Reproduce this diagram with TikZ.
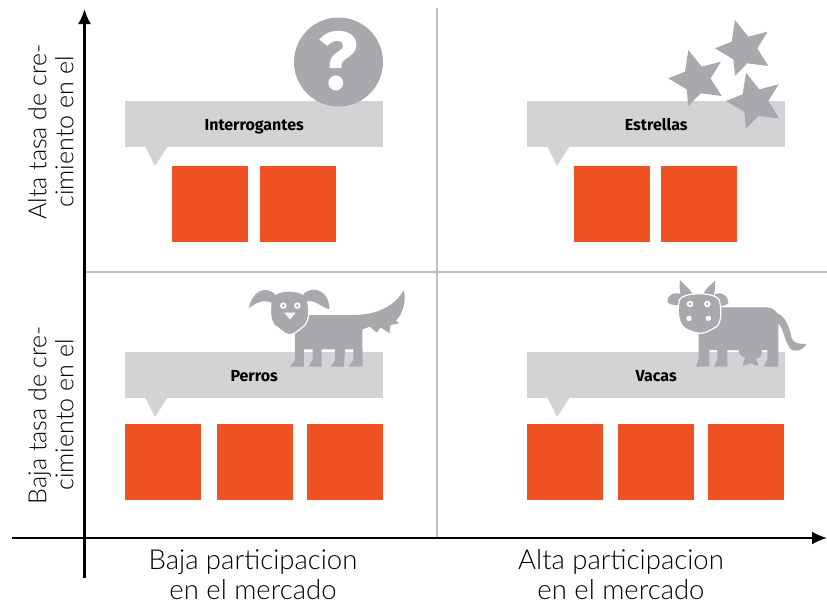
\documentclass[tikz,border=0pt]{standalone}
\usepackage{fontspec}
\setmainfont{Lato}
\newfontfamily\hand{Lato Light}
\newfontfamily\lab{Fira Sans}
\definecolor{orangebox}{HTML}{F15223}
\definecolor{calloutgray}{HTML}{D1D3D4}
\definecolor{icongray}{HTML}{A7A9AC}
\definecolor{gridgray}{HTML}{BCBEC0}
\usetikzlibrary{arrows.meta}
\tikzset{
 box/.style={fill=orangebox,minimum width=76pt,minimum height=76pt,inner sep=0pt,anchor=north west},
 callout/.style={fill=calloutgray,minimum width=258pt,minimum height=46pt,inner sep=0pt,anchor=north west,text height=12pt,text depth=0pt,font=\lab\bfseries\fontsize{16}{18}\selectfont},
 tailfill/.style={fill=calloutgray,draw=none},
 grid line/.style={draw=gridgray,line width=2pt},
 axis/.style={draw=black,line width=2.2pt,-{Latex[length=15pt,width=13pt]}},
 handx/.style={font=\hand\fontsize{27.5}{30}\selectfont,align=center,inner sep=0pt},
 handy/.style={font=\hand\fontsize{25}{27}\selectfont,align=center,inner sep=0pt,rotate=90},
 icon/.style={fill=icongray,draw=none},
}
\begin{document}
\begin{tikzpicture}[x=1pt,y=-1pt]
\useasboundingbox (0,0) rectangle (827,606);
% grid
\coordinate (gt) at (437,8); \coordinate (gb) at (437,538);
\coordinate (gl) at (85,272); \coordinate (gr) at (827,272);
\draw[grid line] (gt) -- (gb);
\draw[grid line] (gl) -- (gr);
% axes
\coordinate (ay0) at (84.5,578); \coordinate (ay1) at (84.5,9);
\coordinate (ax0) at (12,538); \coordinate (ax1) at (827,538);
\draw[axis] (ay0) -- (ay1);
\draw[axis] (ax0) -- (ax1);
% callouts: tails
\fill[tailfill] (145,146) -- (168,146) -- (155,166) -- cycle;
\fill[tailfill] (547,146) -- (570,146) -- (557,166) -- cycle;
\fill[tailfill] (145,397) -- (168,397) -- (155,417) -- cycle;
\fill[tailfill] (547,397) -- (570,397) -- (557,417) -- cycle;
\node[callout] (c1) at (125,101) {Interrogantes};
\node[callout] (c2) at (527,101) {Estrellas};
\node[callout] (c3) at (125,352) {Perros};
\node[callout] (c4) at (527,352) {Vacas};
% boxes
\node[box] (b1) at (172,166) {};
\node[box] (b2) at (260,166) {};
\node[box] (b3) at (574,166) {};
\node[box] (b4) at (661,166) {};
\node[box] (b5) at (125,424) {};
\node[box] (b6) at (217,424) {};
\node[box] (b7) at (307,424) {};
\node[box] (b8) at (527,424) {};
\node[box] (b9) at (618,424) {};
\node[box] (b10) at (708,424) {};
% question icon
\node[circle,fill=icongray,minimum size=89pt,inner sep=0pt] (q) at (338.5,62) {};
\node[text=white,font=\lab\bfseries\fontsize{82}{82}\selectfont,inner sep=0pt] (qm) at (338.5,61) {?};
% stars
\begin{scope}[shift={(650,10)},x=0.3333pt,y=-0.3333pt]
\foreach \cx/\cy in {280/120,140/210,313/278}{
 \fill[icon] (\cx-25,\cy-90) -- (\cx+15,\cy-40) -- (\cx+73,\cy-55) -- (\cx+42,\cy-5) -- (\cx+75,\cy+48) -- (\cx+12,\cy+40) -- (\cx-25,\cy+78) -- (\cx-30,\cy+28) -- (\cx-85,\cy-5) -- (\cx-35,\cy-25) -- cycle;
}
\end{scope}
% dog
\begin{scope}[shift={(230,270)},x=0.3333pt,y=-0.3333pt]
\fill[icon] (215,135) -- (370,135) .. controls (430,135) and (490,115) .. (522,60)
 .. controls (528,95) and (520,130) .. (498,152) -- (507,160) -- (482,165) -- (478,190) -- (452,172) -- (440,188) -- (420,170) -- (397,178)
 -- (398,290) -- (355,290) -- (370,270) -- (370,238) -- (345,238) -- (342,290) -- (302,290) -- (315,270) -- (315,238) -- (275,238) -- (275,290) -- (235,290) -- (248,270) -- (248,238) -- (222,238) -- (222,290) -- (180,290) -- (195,270) -- (195,170) -- cycle;
\fill[icon,draw=white,line width=1.2pt] (128,78) .. controls (150,58) and (205,58) .. (228,78) .. controls (240,110) and (240,150) .. (222,168) .. controls (210,175) and (200,192) .. (178,194) .. controls (160,192) and (150,175) .. (135,168) .. controls (118,150) and (118,110) .. (128,78) -- cycle;
\fill[icon] (135,72) .. controls (105,45) and (65,65) .. (57,115) .. controls (75,100) and (100,85) .. (128,100) -- cycle;
\fill[icon] (220,72) .. controls (255,40) and (300,70) .. (298,117) .. controls (275,115) and (255,85) .. (228,95) -- cycle;
\foreach \ex in {160,202}{\fill[white] (\ex,107) circle[radius=3.3pt]; \fill[icon] (\ex,107) circle[radius=1.4pt];}
\fill[white] (163,128) -- (197,128) -- (180,148) -- cycle;
\end{scope}
% cow
\begin{scope}[shift={(650,270)},x=0.3333pt,y=-0.3333pt]
\fill[icon] (205,112) -- (350,112) .. controls (365,112) and (375,120) .. (382,130)
 .. controls (410,140) and (420,180) .. (425,205) .. controls (430,220) and (450,222) .. (470,222)
 .. controls (460,240) and (435,250) .. (420,235) .. controls (405,215) and (400,175) .. (385,160)
 -- (385,290) -- (340,290) -- (352,268) -- (352,240) -- (335,240) .. controls (338,262) and (325,268) .. (318,262) -- (325,288) -- (302,280) -- (278,288) -- (285,262) .. controls (278,262) and (268,255) .. (265,240) -- (232,240) -- (232,290) -- (192,290) -- (202,268) -- (202,240) -- (178,240) -- (178,290) -- (138,290) -- (146,268) -- (146,170) -- cycle;
\fill[icon] (90,30) -- (118,58) -- (130,75) -- (95,85) .. controls (88,65) and (88,45) .. (90,30) -- cycle;
\fill[icon] (196,32) -- (170,55) -- (158,75) -- (190,85) .. controls (195,65) and (195,45) .. (196,32) -- cycle;
\fill[icon] (95,72) .. controls (70,65) and (52,75) .. (52,95) .. controls (60,108) and (85,108) .. (100,100) -- cycle;
\fill[icon] (195,72) .. controls (215,65) and (235,75) .. (235,100) .. controls (225,110) and (205,110) .. (190,100) -- cycle;
\fill[icon,draw=white,line width=1.2pt] (88,90) .. controls (100,65) and (195,65) .. (208,90) .. controls (215,120) and (215,155) .. (200,170) .. controls (180,180) and (165,192) .. (148,190) .. controls (125,185) and (105,180) .. (95,165) .. controls (85,150) and (82,120) .. (88,90) -- cycle;
\foreach \ex in {120,172}{\fill[white] (\ex,102) circle[radius=3.3pt]; \fill[icon] (\ex,102) circle[radius=1.4pt];}
\fill[white] (117,145) circle[radius=2.7pt];
\fill[white] (175,145) circle[radius=2.7pt];
\end{scope}
% hand labels
\node[handx] (xl) at (253,575) {Baja participacion\\en el mercado};
\node[handx] (xr) at (621,575) {Alta participacion\\en el mercado};
\node[handy] (yu) at (51,132) {Alta tasa de cre-\\cimiento en el};
\node[handy] (yl) at (51,415) {Baja tasa de cre-\\cimiento en el};
\end{tikzpicture}
\end{document}
